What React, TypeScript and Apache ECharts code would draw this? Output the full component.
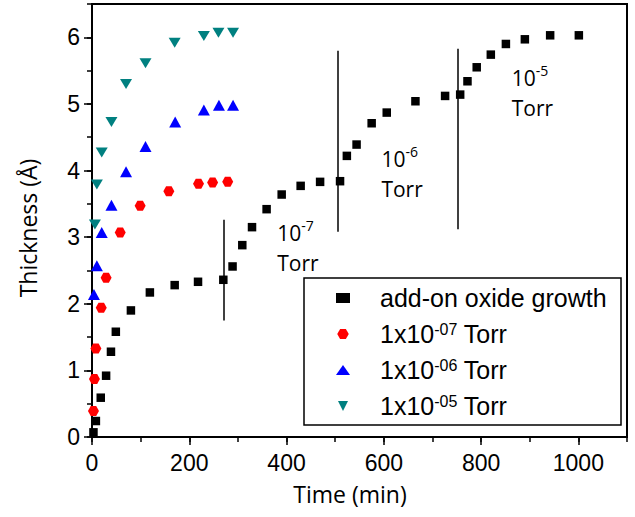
import React, { useEffect, useRef } from 'react';
import * as echarts from 'echarts';

// ---- data ----
const addonTime = [3, 8, 18, 29, 39, 49, 80, 119, 170, 218, 270, 289, 309, 329, 359, 390, 429, 469, 510, 524, 544, 575, 606, 665, 726, 757, 772, 791, 820, 851, 890, 942, 1001];
const addonThick = [0.07, 0.24, 0.59, 0.92, 1.28, 1.58, 1.9, 2.17, 2.28, 2.33, 2.36, 2.56, 2.88, 3.15, 3.42, 3.64, 3.77, 3.83, 3.84, 4.22, 4.39, 4.71, 4.87, 5.04, 5.12, 5.14, 5.34, 5.55, 5.74, 5.9, 5.97, 6.03, 6.03];

const e7Time = [3, 5, 8, 19, 29, 58, 99, 158, 219, 248, 279];
const e7Thick = [0.39, 0.87, 1.33, 1.94, 2.39, 3.07, 3.47, 3.69, 3.8, 3.82, 3.83];

const e6Time = [4, 10, 20, 40, 70, 110, 171, 230, 261, 290];
const e6Thick = [2.14, 2.57, 3.07, 3.48, 3.98, 4.36, 4.73, 4.91, 4.98, 4.98];

const e5Time = [6, 10, 20, 40, 70, 110, 170, 230, 260, 290];
const e5Thick = [3.19, 3.79, 4.27, 4.73, 5.3, 5.61, 5.92, 6.02, 6.07, 6.07];

const seriesNames = ['add-on oxide growth', '1x10-07 Torr', '1x10-06 Torr', '1x10-05 Torr'];
const legendLabels = ['add-on oxide growth', '1x10{sup|-07} Torr', '1x10{sup|-06} Torr', '1x10{sup|-05} Torr'];

// pressure-step marker lines (time, low thickness, high thickness)
const stepTime = [270, 505, 752];
const stepLow = [1.75, 3.08, 3.12];
const stepHigh = [3.26, 5.8, 5.83];

// pressure annotations (anchor: left edge, first line centre)
const noteTime = [381, 595, 863];
const noteThick = [3.06, 4.17, 5.385];
const noteExp = ['-7', '-6', '-5'];

const xMin = 0;
const xMax = 1100;
const yMin = 0;
const yMax = 6.5;

const xTitle = 'Time (min)';
const yTitle = 'Thickness (Å)';

const hexagon = 'path://M-1,0L-0.5,-0.866L0.5,-0.866L1,0L0.5,0.866L-0.5,0.866Z';
const downTriangle = 'path://M-1,-1L1,-1L0,1Z';

const zip = (a: number[], b: number[]) => a.map((v, i) => [v, b[i]]);

export default function App() {
  const ref = useRef<HTMLDivElement>(null);

  useEffect(() => {
    if (!ref.current) return;
    const chart = echarts.init(ref.current, undefined, { renderer: 'svg' });
    const tickFont = 'Liberation Sans';
    const axisCommon = {
      type: 'value' as const,
      splitLine: { show: false },
    };
    const fmt = (v: number) => String(v);
    const option: any = {
      animation: false,
      backgroundColor: '#fff',
      grid: {
        left: 92, right: 8, top: 4, bottom: 80,
        show: true, borderColor: '#000', borderWidth: 2, backgroundColor: 'transparent',
      },
      xAxis: [
        {
          ...axisCommon, position: 'bottom', min: xMin, max: xMax, interval: 200,
          axisLine: { show: true, lineStyle: { color: '#000', width: 2 } },
          axisTick: { show: true, length: 8, lineStyle: { color: '#000', width: 1.5 } },
          axisLabel: { show: true, fontSize: 23, fontFamily: tickFont, color: '#000', margin: 14, showMaxLabel: false, formatter: fmt },
        },
        {
          ...axisCommon, position: 'bottom', min: xMin, max: xMax, interval: 100,
          axisLine: { show: false },
          axisTick: { show: true, length: 5, lineStyle: { color: '#000', width: 1.5 } },
          axisLabel: { show: false },
        },
      ],
      yAxis: [
        {
          ...axisCommon, position: 'left', min: yMin, max: yMax, interval: 1,
          axisLine: { show: true, lineStyle: { color: '#000', width: 2 } },
          axisTick: { show: true, length: 8, lineStyle: { color: '#000', width: 1.5 } },
          axisLabel: { show: true, fontSize: 23, fontFamily: tickFont, color: '#000', margin: 12, showMaxLabel: false, formatter: fmt },
        },
        {
          ...axisCommon, position: 'left', min: yMin, max: yMax, interval: 0.5,
          axisLine: { show: false },
          axisTick: { show: true, length: 5, lineStyle: { color: '#000', width: 1.5 } },
          axisLabel: { show: false },
        },
      ],
      legend: {
        orient: 'vertical',
        left: 336,
        top: 285,
        padding: 0,
        itemWidth: 14,
        itemHeight: 10,
        itemGap: 10,
        symbolKeepAspect: true,
        data: [
          { name: seriesNames[0], icon: 'rect' },
          { name: seriesNames[1], icon: hexagon },
          { name: seriesNames[2], icon: 'triangle' },
          { name: seriesNames[3], icon: downTriangle },
        ],
        formatter: (name: string) => legendLabels[seriesNames.indexOf(name)],
        textStyle: {
          fontSize: 25,
          fontFamily: tickFont,
          color: '#000',
          lineHeight: 26,
          padding: [0, 0, 0, 25],
          rich: {
            sup: { fontSize: 16, lineHeight: 16, fontFamily: tickFont, color: '#000', verticalAlign: 'top' },
          },
        },
      },
      series: [
        {
          name: seriesNames[0], type: 'scatter', symbol: 'rect', symbolSize: 8.5,
          itemStyle: { color: '#000', opacity: 1 }, data: zip(addonTime, addonThick), z: 5,
          markLine: {
            silent: true, symbol: ['none', 'none'], label: { show: false },
            lineStyle: { color: '#000', width: 1.5, type: 'solid' },
            emphasis: { disabled: true },
            data: stepTime.map((t, i) => [{ coord: [t, stepLow[i]] }, { coord: [t, stepHigh[i]] }]),
          },
        },
        {
          name: seriesNames[1], type: 'scatter', symbol: hexagon, symbolSize: [11, 10], symbolKeepAspect: false,
          itemStyle: { color: '#ff0000', opacity: 1 }, data: zip(e7Time, e7Thick),
        },
        {
          name: seriesNames[2], type: 'scatter', symbol: 'triangle', symbolSize: [12, 11],
          itemStyle: { color: '#0000ff', opacity: 1 }, data: zip(e6Time, e6Thick),
        },
        {
          name: seriesNames[3], type: 'scatter', symbol: 'triangle', symbolSize: [12, 10], symbolRotate: 180,
          itemStyle: { color: '#008080', opacity: 1 }, data: zip(e5Time, e5Thick),
        },
      ],
    };
    chart.setOption(option);

    const titleFont = 'Open Sans';
    const graphics: any[] = [
      {
        type: 'rect', z: 3, silent: true,
        shape: { x: 304, y: 278, width: 317, height: 147 },
        style: { fill: '#fff', stroke: '#000', lineWidth: 1.5 },
      },
      {
        type: 'text', x: 350, y: 494, silent: true,
        style: { text: xTitle, fontSize: 23, fontFamily: titleFont, fill: '#000', align: 'center', verticalAlign: 'middle' },
      },
      {
        type: 'text', x: 28, y: 228, rotation: Math.PI / 2, silent: true,
        style: { text: yTitle, fontSize: 23, fontFamily: titleFont, fill: '#000', align: 'center', verticalAlign: 'middle' },
      },
    ];
    noteTime.forEach((t, i) => {
      const p = chart.convertToPixel({ xAxisIndex: 0, yAxisIndex: 0 }, [t, noteThick[i]]) as number[];
      graphics.push({
        type: 'text', x: p[0], y: p[1] - 15, silent: true, z: 6,
        style: {
          text: '10{sup|' + noteExp[i] + '}\nTorr',
          fontSize: 21, fontFamily: titleFont, fill: '#000', lineHeight: 30,
          align: 'left', verticalAlign: 'top',
          rich: {
            sup: { fontSize: 14, lineHeight: 14, fontFamily: titleFont, fill: '#000', verticalAlign: 'top' },
          },
        },
      });
    });
    chart.setOption({ graphic: graphics });

    return () => chart.dispose();
  }, []);

  return (
    <div
      ref={ref}
      style={{ position: 'fixed', left: 0, top: 0, width: 635, height: 517 }}
    />
  );
}
